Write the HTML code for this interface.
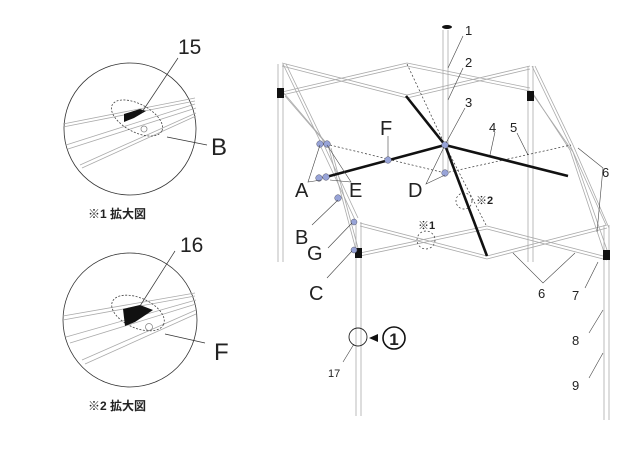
<!DOCTYPE html>
<html><head><meta charset="utf-8"><style>
html,body{margin:0;padding:0;background:#fff;}
svg{display:block}
text{font-family:"Liberation Sans","Noto Sans CJK JP",sans-serif;fill:#222}
</style></head><body>
<svg width="640" height="450" viewBox="0 0 640 450" xmlns="http://www.w3.org/2000/svg">
<defs>
<g id="pl"></g>
</defs>
<!-- Detail circle 1 -->
<g stroke="#333" fill="none">
<circle cx="130" cy="129" r="66" stroke-width="0.8"/>
<circle cx="130" cy="320" r="67" stroke-width="0.8"/>
</g>
<g stroke="#aaa" stroke-width="0.8" fill="none">
<line x1="63" y1="124" x2="195" y2="98"/><line x1="63" y1="127" x2="195" y2="101"/>
<line x1="66" y1="145" x2="195" y2="104"/><line x1="68" y1="149" x2="196" y2="108"/>
<line x1="80" y1="165" x2="196" y2="113"/><line x1="82" y1="168" x2="196" y2="116"/>
<line x1="63" y1="316" x2="195" y2="293"/><line x1="63" y1="320" x2="195" y2="296"/>
<line x1="66" y1="337" x2="196" y2="300"/><line x1="70" y1="343" x2="196" y2="304"/>
<line x1="82" y1="360" x2="196" y2="310"/><line x1="85" y1="364" x2="196" y2="314"/>
</g>
<g stroke="#444" stroke-width="0.8" fill="none" stroke-dasharray="2,1.5">
<ellipse cx="137" cy="118" rx="28" ry="14" transform="rotate(28 137 118)"/>
<ellipse cx="138" cy="313" rx="28" ry="15" transform="rotate(24 138 313)"/>
</g>
<path d="M124 114 L140 109 L146 111 L134 118 L124 122 Z" fill="#111"/>
<path d="M123 309 L140 305 L153 310 L135 322 L125 326 Z" fill="#111"/>
<circle cx="144" cy="129" r="3" fill="none" stroke="#888" stroke-width="0.8"/>
<circle cx="149" cy="327" r="3.5" fill="none" stroke="#888" stroke-width="0.8"/>
<g stroke="#333" stroke-width="0.7">
<line x1="178" y1="58" x2="142" y2="112"/>
<line x1="167" y1="137" x2="207" y2="145"/>
<line x1="175" y1="251" x2="140" y2="306"/>
<line x1="165" y1="334" x2="205" y2="343"/>
</g>
<text x="178" y="54" font-size="21">15</text>
<text x="211" y="155" font-size="24">B</text>
<text x="180" y="252" font-size="21">16</text>
<text x="214" y="360" font-size="24">F</text>
<text x="88" y="218" font-size="12" font-weight="bold">※1 拡大図</text>
<text x="88" y="410" font-size="12" font-weight="bold">※2 拡大図</text>

<!-- main frame: poles -->
<g stroke="#aaa" stroke-width="0.8" fill="none">
<line x1="278" y1="64" x2="278" y2="262"/><line x1="283" y1="64" x2="283" y2="262"/>
<line x1="528" y1="66" x2="528" y2="262"/><line x1="533" y1="66" x2="533" y2="262"/>
<line x1="356" y1="222" x2="356" y2="416"/><line x1="361" y1="222" x2="361" y2="416"/>
<line x1="604" y1="225" x2="604" y2="420"/><line x1="609" y1="225" x2="609" y2="420"/>
<line x1="443" y1="30" x2="443" y2="172"/><line x1="448" y1="30" x2="448" y2="172"/>
<!-- back truss -->
<line x1="282" y1="63" x2="407" y2="95"/><line x1="282" y1="66" x2="407" y2="98"/>
<line x1="282" y1="92" x2="407" y2="63"/><line x1="282" y1="95" x2="407" y2="66"/>
<line x1="407" y1="63" x2="530" y2="88"/><line x1="407" y1="66" x2="530" y2="91"/>
<line x1="407" y1="95" x2="530" y2="66"/><line x1="407" y1="98" x2="530" y2="69"/>
<!-- front truss -->
<line x1="360" y1="223" x2="487" y2="256"/><line x1="360" y1="226" x2="487" y2="259"/>
<line x1="360" y1="253" x2="487" y2="226"/><line x1="360" y1="256" x2="487" y2="229"/>
<line x1="487" y1="226" x2="607" y2="257"/><line x1="487" y1="229" x2="607" y2="260"/>
<line x1="487" y1="256" x2="607" y2="225"/><line x1="487" y1="259" x2="607" y2="228"/>
<!-- left truss -->
<line x1="283" y1="64" x2="322" y2="145"/><line x1="286" y1="64" x2="325" y2="145"/>
<line x1="283" y1="92" x2="328" y2="145"/><line x1="285" y1="96" x2="330" y2="148"/>
<line x1="320" y1="145" x2="356" y2="222"/><line x1="324" y1="145" x2="358" y2="218"/>
<line x1="328" y1="145" x2="356" y2="250"/><line x1="331" y1="148" x2="358" y2="248"/>
<!-- right truss -->
<line x1="532" y1="66" x2="570" y2="145"/><line x1="535" y1="66" x2="573" y2="145"/>
<line x1="532" y1="92" x2="570" y2="150"/><line x1="534" y1="96" x2="573" y2="152"/>
<line x1="570" y1="145" x2="606" y2="225"/><line x1="573" y1="145" x2="609" y2="228"/>
<line x1="570" y1="150" x2="604" y2="252"/><line x1="573" y1="152" x2="607" y2="250"/>
</g>
<g stroke="#333" stroke-width="0.7" fill="none" stroke-dasharray="2,2">
<line x1="407" y1="64" x2="445" y2="145"/>
<line x1="445" y1="145" x2="486" y2="225"/>
<line x1="330" y1="145" x2="445" y2="173"/>
<line x1="445" y1="173" x2="571" y2="145"/>
<circle cx="464" cy="201" r="8"/>
<circle cx="426" cy="240" r="9"/>
</g>
<!-- brackets -->
<g fill="#111">
<rect x="277" y="88" width="7" height="10"/>
<rect x="527" y="91" width="7" height="10"/>
<rect x="355" y="248" width="7" height="10"/>
<rect x="603" y="250" width="7" height="10"/>
<ellipse cx="447" cy="27" rx="5" ry="2"/>
</g>
<!-- thick members -->
<g stroke="#111" stroke-width="2.6" fill="none">
<line x1="406" y1="96" x2="445" y2="145"/>
<line x1="445" y1="145" x2="487" y2="256"/>
<line x1="326" y1="177" x2="445" y2="145"/>
<line x1="445" y1="145" x2="568" y2="176"/>
</g>
<!-- dots -->
<g fill="#98a4d8" stroke="#556" stroke-width="0.5">
<circle cx="320" cy="144" r="3.3"/><circle cx="327" cy="144" r="3.3"/>
<circle cx="319" cy="178" r="3.3"/><circle cx="326" cy="177" r="3.3"/>
<circle cx="338" cy="198" r="3.3"/><circle cx="388" cy="160" r="3.3"/>
<circle cx="445" cy="145" r="3.3"/><circle cx="445" cy="173" r="3.3"/>
<circle cx="354" cy="222" r="3"/><circle cx="354" cy="250" r="3"/>
</g>
<!-- leader lines -->
<g stroke="#444" stroke-width="0.6" fill="none">
<line x1="463" y1="36" x2="448" y2="68"/>
<line x1="463" y1="68" x2="448" y2="100"/>
<line x1="465" y1="108" x2="446" y2="143"/>
<line x1="388" y1="136" x2="388" y2="157"/>
<line x1="495" y1="132" x2="490" y2="155"/>
<line x1="517" y1="133" x2="528" y2="155"/>
<polyline points="320,145 308,182 321,180"/>
<polyline points="327,145 351,182 330,180"/>
<polyline points="445,175 426,184 444,147"/>
<line x1="338" y1="200" x2="312" y2="225"/>
<line x1="352" y1="223" x2="328" y2="248"/>
<line x1="352" y1="251" x2="327" y2="278"/>
<polyline points="578,148 603,168 597,232"/>
<polyline points="513,253 543,283 575,253"/>
<line x1="598" y1="262" x2="585" y2="288"/>
<line x1="603" y1="310" x2="589" y2="333"/>
<line x1="603" y1="353" x2="589" y2="378"/>
<line x1="354" y1="344" x2="343" y2="362"/>
</g>
<circle cx="358" cy="337" r="9" fill="none" stroke="#222" stroke-width="0.9"/>
<circle cx="394" cy="338" r="11" fill="#fff" stroke="#111" stroke-width="1.6"/>
<path d="M369 338 L378 334 L378 342 Z" fill="#111"/>
<text x="394" y="345" font-size="17" font-weight="bold" text-anchor="middle">1</text>
<g font-size="13">
<text x="465" y="35">1</text><text x="465" y="67">2</text><text x="465" y="107">3</text>
<text x="489" y="132">4</text><text x="510" y="132">5</text>
<text x="602" y="177">6</text><text x="538" y="298">6</text>
<text x="572" y="300">7</text><text x="572" y="345">8</text><text x="572" y="390">9</text>
<text x="328" y="377" font-size="11">17</text>
</g>
<g font-size="20">
<text x="380" y="135">F</text>
<text x="295" y="197">A</text><text x="349" y="197">E</text><text x="408" y="197">D</text>
<text x="295" y="244">B</text><text x="307" y="260">G</text><text x="309" y="300">C</text>
</g>
<text x="476" y="204" font-size="11" font-weight="bold">※2</text>
<text x="418" y="229" font-size="11" font-weight="bold">※1</text>
</svg>
</body></html>
